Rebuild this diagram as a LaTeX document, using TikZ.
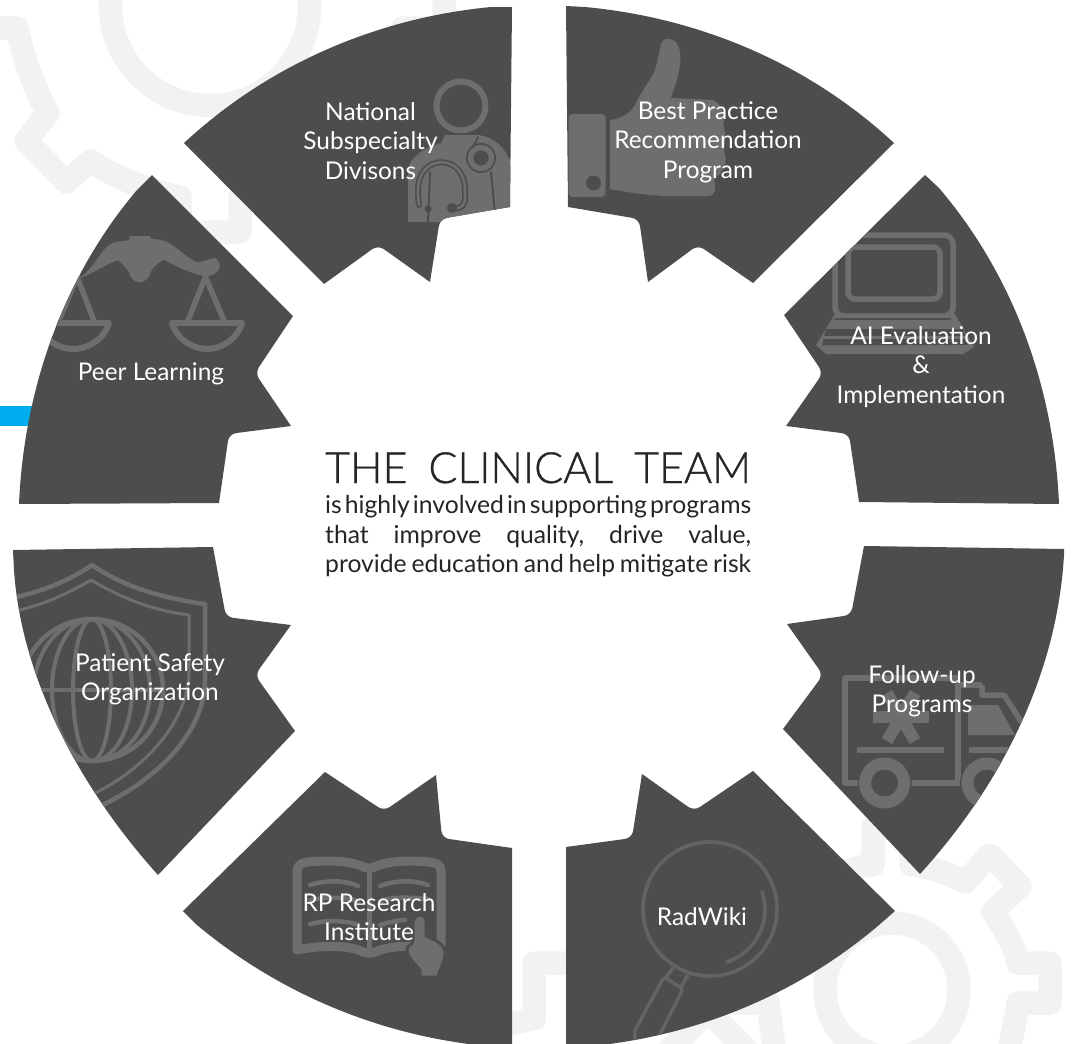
\documentclass[tikz,border=0pt]{standalone}
\usepackage{fontspec}
\setmainfont{Lato}[Ligatures={Common,Rare}]
\newfontfamily\titlefont{Lato Light}[FakeBold=0.8]
\definecolor{segc}{HTML}{4C4D4D}
\definecolor{iconc}{HTML}{6D6F6F}
\definecolor{lensc}{HTML}{626464}
\definecolor{gearc}{HTML}{F1F2F4}
\definecolor{bluec}{HTML}{00AEEF}
\definecolor{inkc}{HTML}{262425}
\tikzset{
 gearline/.style={draw=gearc,line width=23.5pt,line join=round,fill=none},
 iconline/.style={draw=iconc,line join=round,line cap=round,fill=none},
 iconfill/.style={fill=iconc,draw=none},
 darkline/.style={draw=segc,line cap=round,fill=none},
 lensline/.style={draw=lensc,line width=3.6pt,line cap=round,line join=round,fill=none},
 lab/.style={text=white,align=center,font=\fontsize{24.4}{29.4}\selectfont,inner sep=0pt},
 lineleft/.style={text=inkc,anchor=base west,inner sep=0pt,font=\fontsize{24.7}{29}\selectfont},
 segNational/.style={insert path={(512,7)--(491,7) .. controls (376,18) and (268,65) .. (184,143)--(324,284)[rounded corners=7pt]--(378,245)[sharp corners]--(430,282)[rounded corners=7pt]--(440,219)[sharp corners]--(510,207)--cycle}},
 segBest/.style={insert path={(566,6)--(585,7) .. controls (702,18) and (810,65) .. (894,143)--(753,283)[rounded corners=7pt]--(698,245)[sharp corners]--(648,282)[rounded corners=7pt]--(639,219)[sharp corners]--(568,207)--cycle}},
 segAI/.style={insert path={(925,175)--(939,188) .. controls (1014,276) and (1054,388) .. (1059,504)--(859,502)[rounded corners=7pt]--(849,434)[sharp corners]--(786,426)[rounded corners=7pt]--(823,373)[sharp corners]--(784,315)--cycle}},
 segFollow/.style={insert path={(864,546)--(1064,549)--(1064,555) .. controls (1057,675) and (1001,785) .. (920,874)--(783,729)[rounded corners=7pt]--(823,675)[sharp corners]--(787,624)[rounded corners=7pt]--(851,615)[sharp corners]--cycle}},
 segRad/.style={insert path={(566,847)[rounded corners=7pt]--(632,838)[sharp corners]--(642,774)[rounded corners=7pt]--(694,811)[sharp corners]--(753,771)--(895,911)--(879,925) .. controls (791,1000) and (681,1042) .. (566,1048)--cycle}},
 segRP/.style={insert path={(512,848)[rounded corners=7pt]--(442,838)[sharp corners]--(436,775)[rounded corners=7pt]--(384,811)[sharp corners]--(325,772)--(183,911)--(197,925) .. controls (287,1000) and (397,1042) .. (512,1048)--cycle}},
 segSafety/.style={insert path={(13,550)--(213,547)[rounded corners=7pt]--(226,617)[sharp corners]--(291,625)[rounded corners=7pt]--(255,675)[sharp corners]--(295,731)--(158,875) .. controls (77,785) and (21,675) .. (14,570)--cycle}},
 segPeer/.style={insert path={(152,175)--(137,190) .. controls (64,276) and (24,388) .. (19,504)--(219,503)[rounded corners=7pt]--(229,434)[sharp corners]--(291,426)[rounded corners=7pt]--(255,373)[sharp corners]--(293,316)--cycle}},
}
\begin{document}
\begin{tikzpicture}[x=1pt,y=-1pt]
\useasboundingbox (0,1044) rectangle (1074,0);
\clip (0,1044) rectangle (1074,0);
% background gears
\draw[gearline] (210,6) circle[radius=99.5];
\draw[gearline] (-30,28)--(17,28) .. controls (24,60) and (34,88) .. (48,113)--(26,141)--(66,182)--(91,161) .. controls (115,178) and (148,190) .. (180,197)--(180,232)--(240,232)--(240,197) .. controls (272,190) and (305,178) .. (329,161)--(354,182)--(394,141)--(372,113) .. controls (386,88) and (396,60) .. (403,28)--(444,28)--(444,-30);
\draw[gearline] (892,990) circle[radius=67];
\draw[gearline] (819,882) .. controls (838,873) and (855,867) .. (873,865)--(873,828)--(911,828)--(911,865) .. controls (930,867) and (948,873) .. (965,882)--(990,855)--(1020,886)--(993,912) .. controls (1005,930) and (1014,945) .. (1018,963)--(1050,963)--(1050,1003)--(1018,1003) .. controls (1016,1020) and (1012,1032) .. (1009,1052);
\draw[gearline] (766,963)--(735,963)--(735,1003)--(768,1003) .. controls (770,1020) and (772,1032) .. (775,1052);
\draw[gearline] (665,1054)--(708,1011)--(750,1053);
\draw[gearline] (575,963)--(534,963)--(534,1019)--(470,1031);
\fill[bluec] (0,406) rectangle (40,426);
% segments
\path[fill=segc,segNational];
\path[fill=segc,segBest];
\path[fill=segc,segAI];
\path[fill=segc,segFollow];
\path[fill=segc,segRad];
\path[fill=segc,segRP];
\path[fill=segc,segSafety];
\path[fill=segc,segPeer];
% doctor
\begin{scope}
\path[clip,segNational];
\draw[iconline,line width=6pt] (461,106) circle[radius=24.5];
\fill[iconc] (408,222)--(408,170) .. controls (410,155) and (428,147) .. (441,143)--(445,135)--(478,135) .. controls (495,137) and (510,150) .. (512,172)--(512,222)--cycle;
\draw[darkline,line width=2pt] (430,172)--(428,222);
\draw[darkline,line width=2pt] (491,172)--(495,214);
\draw[darkline,line width=6pt] (419,205)--(418,196)--(418,190) .. controls (418,153) and (465,153) .. (465,190)--(465,200) .. controls (464,207) and (458,210) .. (452,208);
\draw[iconline,line width=2.6pt] (419,205)--(418,196)--(418,190) .. controls (418,153) and (465,153) .. (465,190)--(465,200) .. controls (464,207) and (458,210) .. (452,208);
\fill[segc] (452,208) circle[radius=5];
\fill[segc] (428,209) circle[radius=3.5];
\fill[segc] (481,158) circle[radius=15];
\draw[iconline,line width=5.5pt] (481,158) circle[radius=10.5];
\fill[segc] (481,150.5) .. controls (473,152) and (473,164) .. (481,165.5) .. controls (477,160) and (477,156) .. (481,150.5)--cycle;
\draw[darkline,line width=2pt] (478,137) -- (473,147);
\end{scope}
% thumb
\begin{scope}
\path[clip,segBest];
\fill[iconc,rounded corners=4pt] (568.5,114) rectangle (605.5,197);
\fill[segc] (593.5,183) circle[radius=7.5];
\fill[iconc] (610,120) .. controls (622,119) and (632,112) .. (636,103) .. controls (642,90) and (651,80) .. (655,70) .. controls (658,60) and (660,48) .. (661,44) .. controls (663,36) and (678,36) .. (680,52) .. controls (682,68) and (675,85) .. (671,98)--(712,100) .. controls (720,102) and (724,112) .. (724,120) .. controls (722,125) and (725,128) .. (725,135) .. controls (727,145) and (722,150) .. (725,155) .. controls (728,165) and (722,172) .. (714,180) .. controls (716,186) and (716,196) .. (708,196)--(665,196) .. controls (645,195) and (625,192) .. (610,189)--cycle;
\end{scope}
% laptop
\begin{scope}
\path[clip,segAI];
\draw[iconline,line width=5.5pt,rounded corners=9pt] (835,235) rectangle (953,316);
\draw[iconline,line width=5.5pt,rounded corners=7pt] (848,247) rectangle (940,299);
\fill[iconc] (835,314)--(955,314)--(974,347)--(963,354)--(826,354)--(816,345)--cycle;
\fill[segc] (826,329)--(963,329)--(968,345)--(822,345)--cycle;
\draw[darkline,line width=2pt] (835,319)--(950,319);
\draw[iconline,line width=3pt] (824,337)--(966,337);
\end{scope}
% truck
\begin{scope}
\path[clip,segFollow];
\draw[iconline,line width=5.5pt,line cap=butt] (982,685)--(958,685)--(958,783)--(845,783)--(845,678)--(958,678);
\draw[iconline,line width=5.5pt,line cap=butt] (958,783)--(975,783);
\draw[iconline,line width=5.5pt,line cap=butt] (982,685)--(982,695)--(1004,695)--(1030,735);
\fill[iconc] (968,705)--(998,705)--(1015,735)--(968,735)--cycle;
\draw[iconline,line width=6pt,line cap=butt] (857,750)--(944,750);
\draw[iconline,line width=6pt,line cap=butt] (969,750)--(1010,750);
\fill[segc] (884.6,783) circle[radius=27];
\fill[segc] (987,783) circle[radius=27];
\draw[iconline,line width=12pt] (884.6,783) circle[radius=19.5];
\draw[iconline,line width=12pt] (987,783) circle[radius=19.5];
\draw[iconline,line width=12pt,line cap=butt] (873,717)--(929,717);
\draw[iconline,line width=12pt,line cap=butt] (887,741)--(915,693);
\draw[iconline,line width=12pt,line cap=butt] (915,741)--(887,693);
\end{scope}
% magnifier
\begin{scope}
\path[clip,segRad];
\draw[lensline] (710,909) circle[radius=67];
\draw[lensline] (762,892) .. controls (772,921) and (756,952) .. (727,962);
\draw[lensline] (673,968)--(665,979);
\draw[lensline] (688,975)--(681,987);
\draw[lensline,rounded corners=3pt] (664,977)--(683,989)--(656,1042)--(636,1042)--(634,1032)--cycle;
\end{scope}
% book
\begin{scope}
\path[clip,segRP];
\draw[iconline,line width=9pt,rounded corners=7pt] (297,950)--(297,864) .. controls (320,860) and (350,860) .. (369,870) .. controls (388,860) and (418,860) .. (441,864)--(441,950) .. controls (418,945) and (390,945) .. (369,955) .. controls (350,945) and (320,945) .. (297,950);
\draw[iconline,line width=5pt,line cap=butt] (369,870)--(369,955);
\draw[iconline,line width=4.5pt] (310,885) .. controls (325,880) and (345,880) .. (358,886);
\draw[iconline,line width=4.5pt] (310,900) .. controls (325,897) and (345,897) .. (358,901);
\draw[iconline,line width=4.5pt] (310,924) .. controls (325,920) and (345,920) .. (358,925);
\draw[iconline,line width=4.5pt] (380,886) .. controls (395,880) and (415,880) .. (428,885);
\draw[iconline,line width=4.5pt] (380,901) .. controls (393,897) and (405,897) .. (428,899);
\draw[iconline,line width=4.5pt] (380,925) .. controls (390,922) and (398,920) .. (405,920);
\path[fill=iconc,draw=segc,line width=3pt] (413,922) .. controls (414,913) and (426,913) .. (426,922)--(426,936) .. controls (436,940) and (446,945) .. (445,955) .. controls (444,964) and (440,968) .. (438,977)--(420,977)--(420,970) .. controls (414,963) and (407,957) .. (407,950) .. controls (407,944) and (413,946) .. (413,940)--cycle;
\end{scope}
% shield and globe
\begin{scope}
\path[clip,segSafety];
\draw[iconline,line width=4.5pt] (92,565) .. controls (120,585) and (160,598) .. (205,604)--(205,680) .. controls (205,730) and (160,780) .. (92,810) .. controls (24,780) and (-21,730) .. (-21,680)--(-21,604) .. controls (24,598) and (64,585) .. (92,565);
\draw[iconline,line width=3pt] (91,580) .. controls (120,597) and (150,610) .. (189,615)--(189,672) .. controls (189,720) and (145,770) .. (91,795) .. controls (37,770) and (-7,720) .. (-7,672)--(-7,615) .. controls (32,610) and (62,597) .. (91,580);
\draw[iconline,line width=4.5pt] (92,690) circle[radius=71];
\draw[iconline,line width=4pt] (92,690) ellipse[x radius=19,y radius=71];
\draw[iconline,line width=4pt] (92,690) ellipse[x radius=40,y radius=71];
\draw[iconline,line width=4pt] (92,690) ellipse[x radius=58,y radius=71];
\draw[iconline,line width=4pt] (21,690)--(163,690);
\end{scope}
% scales
\begin{scope}
\path[clip,segPeer];
\fill[iconc,rounded corners=2pt] (129,236) rectangle (151,246);
\fill[iconc] (75,280) .. controls (95,272) and (100,245) .. (116,242) .. controls (125,240) and (155,238) .. (161,240) .. controls (175,243) and (185,258) .. (197,262) .. controls (205,262) and (210,258) .. (215,258)  .. controls (222,262) and (221,272) .. (212,275) .. controls (204,280) and (180,268) .. (164,260) .. controls (158,262) and (150,270) .. (150,275) .. controls (145,285) and (132,285) .. (129,272) .. controls (125,266) and (120,262) .. (118,260) .. controls (105,265) and (90,275) .. (75,280)--cycle;
\draw[iconline,line width=5.5pt,line cap=butt] (187,323)--(205.5,277)--(225,323);
\draw[iconline,line width=5.5pt,line cap=butt] (58,323)--(77,277)--(95,323);
\draw[iconline,line width=6pt] (172,323)--(242,323) .. controls (238,338) and (222,349) .. (207,349) .. controls (192,349) and (176,338) .. (172,323);
\draw[iconline,line width=6pt] (38,323)--(109,323) .. controls (105,338) and (89,349) .. (73,349) .. controls (58,349) and (42,338) .. (38,323);
\end{scope}
% labels
\node[lab] (national) at (370.5,141) {National\\Subspecialty\\Divisons};
\node[lab] (best) at (708,142) {Bes\kern0pt t Practice\\Recommendation\\Program};
\node[lab] (ai) at (921,367) {AI Evaluation\\\&\\Implementation};
\node[lab] (follow) at (922,691) {Follow-up\\Programs};
\node[lab] (rad) at (702,917) {RadWiki};
\node[lab] (rp) at (369,917) {RP Researc\kern0pt h\\Ins\kern0pt titute};
\node[lab] (safety) at (150,679) {Patient Safety\\Organization};
\node[lab] (peer) at (151,374) {Peer Learning};
% centre text
\node[lineleft,font=\titlefont\fontsize{43}{48}\selectfont] (title) at (325,483) {\hbox to 426pt{THE\hfill CLINICAL\hfill TEAM}};
\node[lineleft] (l1) at (325,513) {\hbox to 426pt{is\hfill highly\hfill involved\hfill in\hfill supporting\hfill programs}};
\node[lineleft] (l2) at (325,543) {\hbox to 426pt{that\hfill improve\hfill quality,\hfill drive\hfill value,}};
\node[lineleft] (l3) at (325,572) {\hbox to 426pt{provide\hfill education\hfill and\hfill help\hfill mitigate\hfill risk}};
\end{tikzpicture}
\end{document}
